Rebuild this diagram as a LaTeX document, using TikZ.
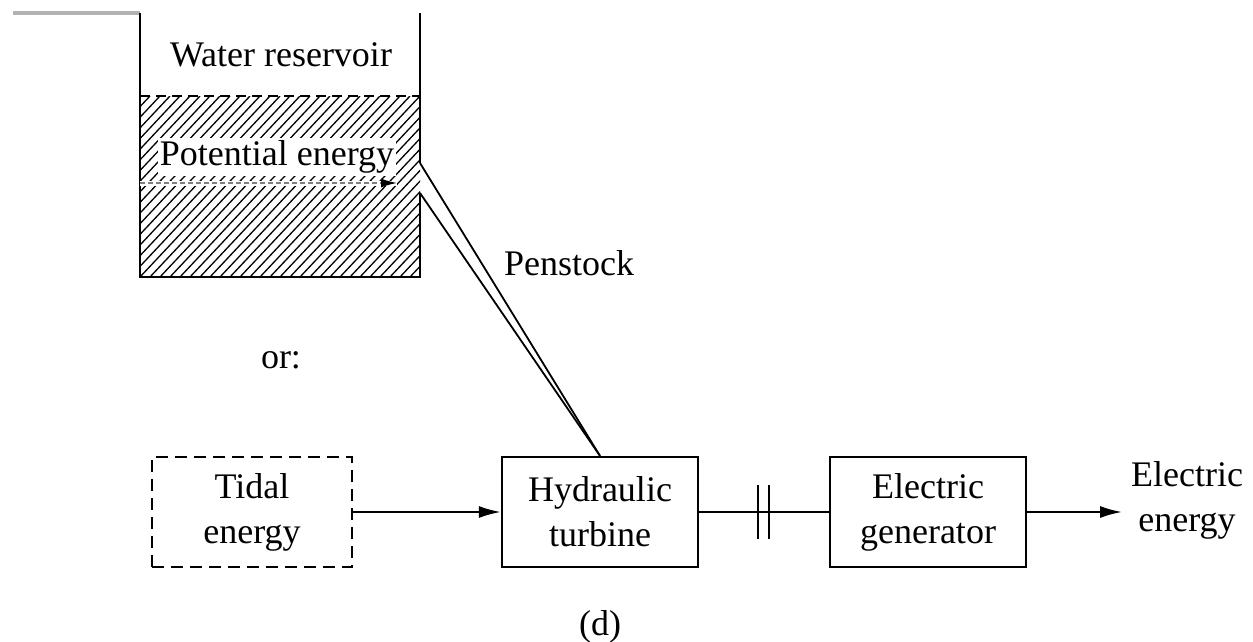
\documentclass[tikz,border=0pt]{standalone}
\usepackage{fontspec}
\setmainfont{Liberation Serif}
\usetikzlibrary{arrows.meta,calc}
\tikzset{
  txt/.style={font=\fontsize{36}{45}\selectfont, align=center, inner sep=0pt},
  blockbox/.style={draw, line width=2.2pt, minimum width=196pt, minimum height=110pt, align=center, font=\fontsize{36}{45}\selectfont, inner sep=0pt},
  wall/.style={line width=2.2pt},
  conn/.style={line width=2.2pt, -{Latex[length=22pt,width=12pt]}},
  pipe/.style={line width=1.8pt},
}
\begin{document}
\begin{tikzpicture}[x=1pt,y=-1pt]
\useasboundingbox (0,0) rectangle (1253,642);
% hatching of the water body
\begin{scope}
\clip (140,96) rectangle (420,277);
\foreach \i in {-200,-190,...,300} {
  \draw[line width=1.3pt] (140+\i,277) -- (140+\i+170,96);
}
\end{scope}
% reservoir walls
\draw[line width=4pt, gray!60] (13,13) -- (140,13);
\draw[wall] (140,13) -- (140,277) -- (420,277) -- (420,193);
\draw[wall] (420,13) -- (420,163);
\draw[line width=2pt, dash pattern=on 10pt off 6pt] (140,96) -- (420,96);
% labels in the reservoir
\node[txt, fill=white, inner xsep=2pt, inner ysep=3pt] (pe) at (277,157) {Potential energy};
\node[txt] (wr) at (281,55) {Water reservoir};
\coordinate (arrS) at (140,183);
\coordinate (arrE) at (397,183);
\draw[white, line width=5pt] (arrS) -- (arrE);
\draw[line width=1.4pt, gray, dash pattern=on 5pt off 3pt] (arrS) -- ($(arrE)+(-10,0)$);
\draw[line width=1.4pt, -{Latex[length=16pt,width=9pt]}] ($(arrE)+(-14,0)$) -- (arrE);
% blocks
\node[blockbox, dashed, dash pattern=on 12pt off 7pt, minimum width=200pt] (tidal) at (252,512) {Tidal\\energy};
\node[blockbox] (hyd) at (600,512) {Hydraulic\\turbine};
\node[blockbox] (gen) at (928,512) {Electric\\generator};
\node[txt] (ee) at (1187,500) {Electric\\energy};
\node[txt] (or) at (281,360) {or:};
\node[txt] (pen) at (569,263) {Penstock};
\node[txt] (d) at (600,627) {(d)};
% penstock
\coordinate (pt1) at (420,163);
\coordinate (pt2) at (420,193);
\draw[pipe] (pt1) -- (hyd.north);
\draw[pipe] (pt2) -- (hyd.north);
% connectors
\draw[conn] (tidal.east) -- (hyd.west);
\draw[line width=2.2pt] (hyd.east) -- (gen.west);
\draw[line width=2.2pt] (758,485) -- (758,539);
\draw[line width=2.2pt] (769,485) -- (769,539);
\draw[conn] (gen.east) -- ($(gen.east)+(95,0)$) coordinate (eeArr);
\end{tikzpicture}
\end{document}
